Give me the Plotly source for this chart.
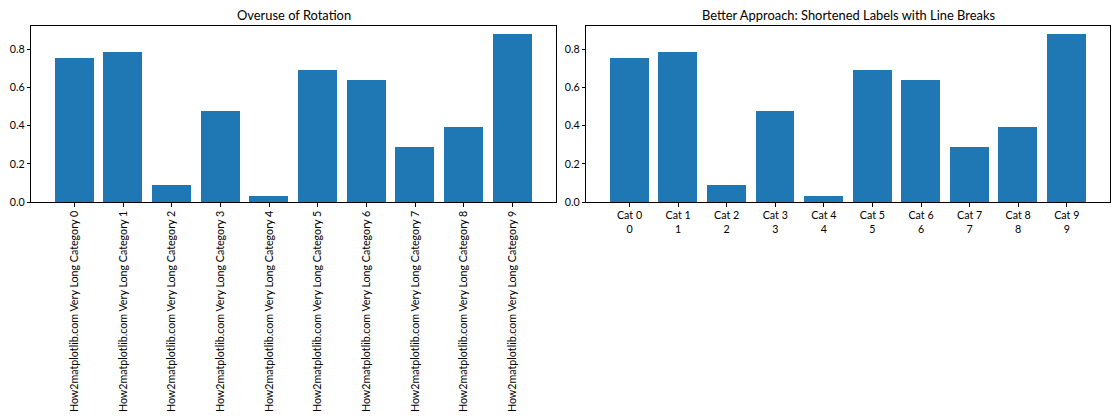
import plotly.graph_objects as go

categories_long = [f"How2matplotlib.com Very Long Category {i}" for i in range(10)]
categories_short = [f"Cat {i}<br>{i}" for i in range(10)]
values = [0.749, 0.781, 0.089, 0.472, 0.031, 0.687, 0.639, 0.288, 0.393, 0.875]
positions = list(range(10))
titles = ["Overuse of Rotation", "Better Approach: Shortened Labels with Line Breaks"]
y_ticks = [0.0, 0.2, 0.4, 0.6, 0.8]

FONT = "Lato"
TICK_SIZE = 10.7
TITLE_SIZE = 12.9
W, H = 1120, 420
BLUE = "#1f77b4"

fig = go.Figure()
fig.add_trace(go.Bar(x=positions, y=values, width=0.8, marker=dict(color=BLUE, line=dict(width=0)),
                     xaxis="x", yaxis="y", showlegend=False))
fig.add_trace(go.Bar(x=positions, y=values, width=0.8, marker=dict(color=BLUE, line=dict(width=0)),
                     xaxis="x2", yaxis="y2", showlegend=False))

xd1 = [31.3 / W, 555.7 / W]
xd2 = [586.3 / W, 1110 / W]
yd = [1 - 202 / H, 1 - 26.3 / H]
ymax = max(values) * 1.05

axis_common = dict(showline=True, linecolor="black", linewidth=1, mirror=True, ticks="outside",
                   ticklen=3.5, tickcolor="black", tickwidth=1, showgrid=False, zeroline=False,
                   automargin=False, tickfont=dict(family=FONT, size=TICK_SIZE, color="black"))

fig.update_layout(
    width=W, height=H, margin=dict(l=0, r=0, t=0, b=0),
    plot_bgcolor="white", paper_bgcolor="white", bargap=0,
    xaxis=dict(domain=xd1, range=[-0.89, 9.89], tickmode="array", tickvals=positions,
               ticktext=categories_long, tickangle=-90, anchor="y", **axis_common),
    yaxis=dict(domain=yd, range=[0, ymax], tickmode="array", tickvals=y_ticks,
               ticktext=[f"{v:.1f}" for v in y_ticks], anchor="x", **axis_common),
    xaxis2=dict(domain=xd2, range=[-0.89, 9.89], tickmode="array", tickvals=positions,
                ticktext=categories_short, tickangle=0, anchor="y2", **axis_common),
    yaxis2=dict(domain=yd, range=[0, ymax], tickmode="array", tickvals=y_ticks,
                ticktext=[f"{v:.1f}" for v in y_ticks], anchor="x2", **axis_common),
    annotations=[
        dict(text=titles[0], x=(xd1[0] + xd1[1]) / 2, y=1 - 15.5 / H, xref="paper", yref="paper",
             xanchor="center", yanchor="middle", showarrow=False,
             font=dict(family=FONT, size=TITLE_SIZE, color="black")),
        dict(text=titles[1], x=(xd2[0] + xd2[1]) / 2, y=1 - 15.5 / H, xref="paper", yref="paper",
             xanchor="center", yanchor="middle", showarrow=False,
             font=dict(family=FONT, size=TITLE_SIZE, color="black")),
    ],
)

fig.write_html("out.html", config={"displayModeBar": False},
               post_script="document.body.style.margin='0';document.body.style.overflow='hidden';")
